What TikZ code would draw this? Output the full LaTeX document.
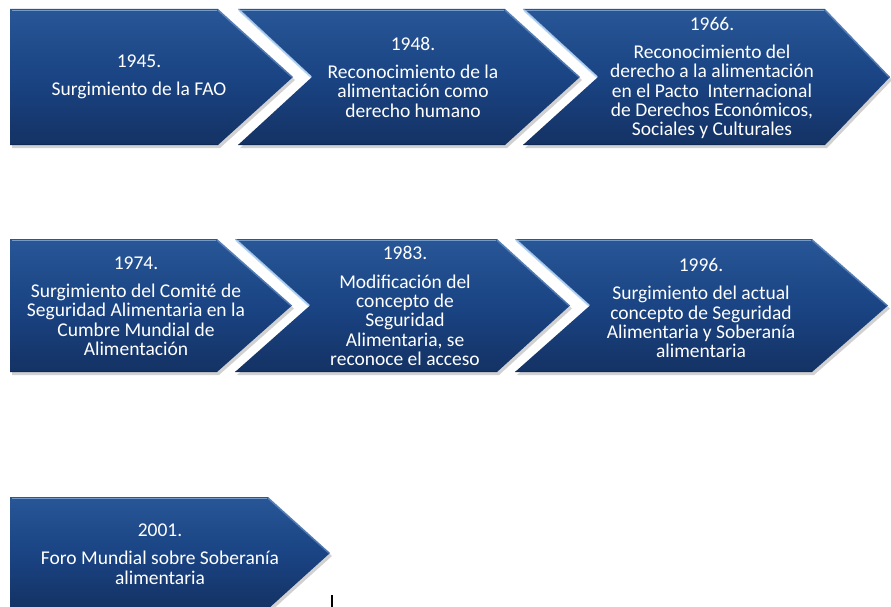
\documentclass[tikz,border=0pt]{standalone}
\usepackage{fontspec}
\setmainfont{Carlito}
\definecolor{boxtop}{RGB}{40,86,150}
\definecolor{boxmid}{RGB}{26,68,132}
\definecolor{boxbot}{RGB}{20,50,100}
\definecolor{hilite}{RGB}{175,210,245}
\definecolor{darkedge}{RGB}{12,34,72}
\tikzset{
  boxfill/.style={top color=boxtop, bottom color=boxbot, middle color=boxmid},
  shadowfill/.style={fill=black, opacity=0.18},
  topline/.style={draw=hilite, line width=1.6pt, opacity=0.55},
  notchline/.style={draw=hilite, line width=2pt, opacity=0.85},
  lbl/.style={text=white, align=center, font=\fontsize{19.5}{19.3}\selectfont, inner sep=0pt}
}
% xl, xf, xt, yt, yb
\newcommand\hplate[5]{%
  \pgfmathsetmacro\ymid{(#4+#5)/2}%
  \fill[shadowfill] (#1+2,#4+3) -- (#2+2,#4+3) -- (#3+2,\ymid+3) -- (#2+2,#5+3) -- (#1+2,#5+3) -- cycle;
  \path[boxfill] (#1,#4) -- (#2,#4) -- (#3,\ymid) -- (#2,#5) -- (#1,#5) -- cycle;
  \path[topline] (#1+2,#4+1.5) -- (#2-1,#4+1.5);
  \path[topline, opacity=0.35] (#2,#4+1) -- (#3-1,\ymid);
  \path[draw=darkedge, line width=1pt, opacity=0.5] (#1,#5-0.5) -- (#2,#5-0.5);
}
% xl, xf, xt, yt, yb, depth
\newcommand\chevshape[6]{%
  \pgfmathsetmacro\ymid{(#4+#5)/2}%
  \fill[shadowfill] (#1+2,#4+3) -- (#2+2,#4+3) -- (#3+2,\ymid+3) -- (#2+2,#5+3) -- (#1+2,#5+3) -- (#1+#6+2,\ymid+3) -- cycle;
  \path[boxfill] (#1,#4) -- (#2,#4) -- (#3,\ymid) -- (#2,#5) -- (#1,#5) -- (#1+#6,\ymid) -- cycle;
  \path[topline] (#1+3,#4+1.5) -- (#2-1,#4+1.5);
  \path[topline, opacity=0.35] (#2,#4+1) -- (#3-1,\ymid);
  \path[notchline] (#1+1,#4+1) -- (#1+#6-1,\ymid);
  \path[draw=darkedge, line width=1pt, opacity=0.5] (#1,#5-0.5) -- (#2,#5-0.5);
}
\begin{document}
\begin{tikzpicture}[x=1pt, y=-1pt]
\useasboundingbox (0,0) rectangle (891,607);
\clip (0,0) rectangle (891,607);
\fill[white] (0,0) rectangle (891,607);
% row 1
\hplate{10}{218}{293}{9}{145}
\chevshape{238}{505}{580}{9}{145}{74}
\chevshape{523}{825}{890}{9}{145}{75}
% row 2
\hplate{10}{217}{292}{239}{372}
\chevshape{235}{497}{570}{239}{372}{75}
\chevshape{515}{812}{888}{239}{372}{75}
% row 3
\hplate{10}{268}{330}{497}{609}
% texts
\node[lbl] (t1945) at (139,77) {1945.\\[9pt] Surgimiento de la FAO};
\node[lbl] (t1948) at (413,77) {1948.\\[9pt] Reconocimiento de la\\ alimentación como\\ derecho humano};
\node[lbl] (t1966) at (712,78) {1966.\\[9pt] Reconocimiento del\\ derecho a la alimentación\\ en el Pacto~ Internacional\\ de Derechos Económicos,\\ Sociales y Culturales};
\node[lbl] (t1974) at (136,306) {1974.\\[9pt] Surgimiento del Comité de\\ Seguridad Alimentaria en la\\ Cumbre Mundial de\\ Alimentación};
\node[lbl] (t1983) at (405,306) {1983.\\[9pt] Modificación del\\ concepto de\\ Seguridad\\ Alimentaria, se\\ reconoce el acceso};
\node[lbl] (t1996) at (701,308) {1996.\\[9pt] Surgimiento del actual\\ concepto de Seguridad\\ Alimentaria y Soberanía\\ alimentaria};
\node[lbl] (t2001) at (160,554) {2001.\\[9pt] Foro Mundial sobre Soberanía\\ alimentaria};
% text cursor
\coordinate (cura) at (332,595);
\coordinate (curb) at (332,607);
\draw[black, line width=1.2pt] (cura) -- (curb);
\end{tikzpicture}
\end{document}
